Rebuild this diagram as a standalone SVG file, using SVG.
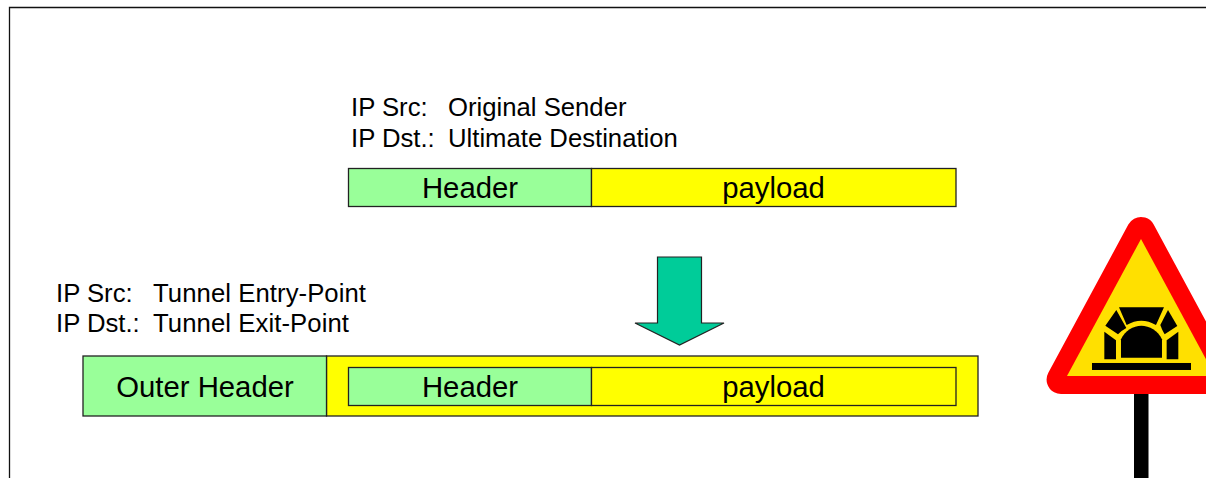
<svg xmlns="http://www.w3.org/2000/svg" width="1206" height="478" viewBox="0 0 1206 478">
<style>
text{font-family:"Liberation Sans",Arial,sans-serif;fill:#000}
.lab{font-size:25.7px}
.box{font-size:29.3px;text-anchor:middle}
.g{fill:#99FF99;stroke:#222;stroke-width:1.3}
.y{fill:#FFFF00;stroke:#222;stroke-width:1.3}
.k{fill:#000}
</style>
<rect width="1206" height="478" fill="#fff"/>
<path id="frame" d="M1206 7.500H9.500V478" fill="none" stroke="#111" stroke-width="1.300"/>
<g id="label-original">
<text class="lab" x="351" y="116">IP Src:</text><text class="lab" x="448" y="116">Original Sender</text>
<text class="lab" x="351" y="147">IP Dst.:</text><text class="lab" x="448" y="147">Ultimate Destination</text>
</g>
<g id="packet-original">
<rect class="g" x="348.500" y="168.500" width="243" height="38"/>
<rect class="y" x="591.500" y="168.500" width="364.500" height="38"/>
<text class="box" x="470" y="198">Header</text>
<text class="box" x="773.500" y="198">payload</text>
</g>
<g id="connectors">
<path d="M657.500 257H701.500V323H724L679.500 345L635 323H657.500Z" fill="#00CC99" stroke="#222" stroke-width="1.200"/>
</g>
<g id="label-tunnel">
<text class="lab" x="56" y="302">IP Src:</text><text class="lab" x="153" y="302" textLength="213">Tunnel Entry-Point</text>
<text class="lab" x="56" y="332">IP Dst.:</text><text class="lab" x="153" y="332" textLength="196">Tunnel Exit-Point</text>
</g>
<g id="packet-tunnel">
<rect class="y" x="326.500" y="356" width="651.500" height="60"/>
<rect class="g" x="83" y="356" width="243.500" height="60"/>
<text class="box" x="205" y="397">Outer Header</text>
<rect class="g" x="348.500" y="367.500" width="243" height="38"/>
<rect class="y" x="591.500" y="367.500" width="364.500" height="38"/>
<text class="box" x="470" y="397">Header</text>
<text class="box" x="773.500" y="397">payload</text>
</g>
<g id="tunnel-sign">
<rect x="1134" y="390" width="14.500" height="88" fill="#000"/>
<polygon points="1141,231.400 1061,379.600 1221,379.600" fill="#FF0000" stroke="#FF0000" stroke-width="28.800" stroke-linejoin="round"/>
<polygon points="1141,239 1067,376 1215,376" fill="#FFE000"/>
<g transform="translate(1030 200) scale(.3333)">
<path class="k" d="M267 322H402L378 375Q334 349 290 375Z"/>
<path class="k" d="M259 330L289 384Q274 392 264 403L226 377Z"/>
<path class="k" d="M414 330L442 378L404 403Q396 390 391 375Z"/>
<path class="k" d="M223 395L258 421V478H223Z"/>
<path class="k" d="M445 395V478H410V421Z"/>
<path class="k" d="M273 473V418C285 392 310 377 334 377C358 377 384 392 396 418V473Z"/>
<rect class="k" x="186" y="489" width="297" height="21"/>
</g>
</g>
</svg>
